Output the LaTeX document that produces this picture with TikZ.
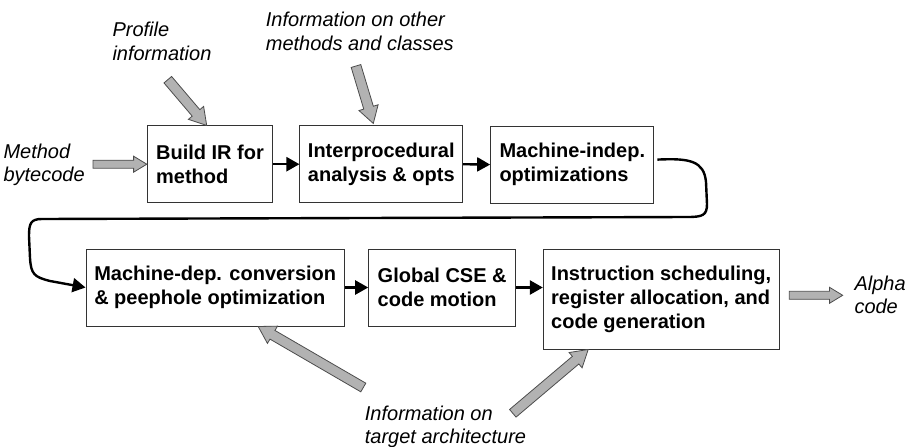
\documentclass[tikz,border=0pt]{standalone}
\usepackage{fontspec}
\setmainfont{Liberation Sans}
\usetikzlibrary{calc,arrows.meta}

% #1 half width of the shaft (pt), #2 tail, #3 tip
\newcommand{\fatarrow}[3]{%
  \coordinate (fh) at ($(#3)!3.3*#1pt!(#2)$);
  \filldraw[fat] ($(#2)!#1pt!90:(#3)$) -- ($(fh)!#1pt!90:(#3)$)
    -- ($(fh)!2*#1pt!90:(#3)$) -- (#3) -- ($(fh)!2*#1pt!-90:(#3)$)
    -- ($(fh)!#1pt!-90:(#3)$) -- ($(#2)!#1pt!-90:(#3)$) -- cycle;
}

\begin{document}
\begin{tikzpicture}[x=1pt,y=-1pt]
\def\cBox{black!80}
\def\cFill{black!30}
\def\cEdge{black!70}
\tikzset{
  stage/.style={draw=\cBox, line width=1pt, align=left, inner sep=0pt,
    font=\bfseries\fontsize{20}{24}\selectfont},
  info/.style={align=left, anchor=base west, inner sep=0pt,
    font=\itshape\fontsize{20}{23.5}\selectfont},
  flow/.style={line width=2.4pt, -{Triangle[length=13pt,width=14pt]}},
  fat/.style={fill=\cFill, draw=\cEdge, line width=0.8pt}
}
\useasboundingbox (0,0) rectangle (906,447);

% stages
\node[stage, minimum width=125.4pt, minimum height=76.5pt] (build) at (210,164.2) {Build IR for\\method};
\node[stage, minimum width=162.7pt, minimum height=76.5pt] (inter) at (381.3,164.2) {Interprocedural\\analysis \& opts};
\node[stage, minimum width=163.3pt, minimum height=77pt] (indep) at (572.3,164.6) {Machine-indep.\\optimizations};
\node[stage, minimum width=258.3pt, minimum height=77pt] (dep) at (215.2,287.5) {Machine-dep. conversion\\\& peephole optimization};
\node[stage, minimum width=147pt, minimum height=77pt] (cse) at (442.2,287.5) {Global CSE \&\\code motion};
\node[stage, minimum width=235.7pt, minimum height=100pt] (sched) at (661.2,299) {Instruction scheduling,\\register allocation, and\\code generation};

% inputs and outputs (base = last line)
\node[info] (lBytecode) at (3.3,181.8) {Method\\bytecode};
\node[info] (lProfile) at (112.3,60.2) {Profile\\information};
\node[info] (lMethods) at (265.7,50.2) {Information on other\\methods and classes};
\node[info] (lTarget) at (364.7,443.5) {Information on\\target architecture};
\node[info] (lAlpha) at (854.3,313.5) {Alpha\\code};

\draw[flow] (build.east) -- (inter.west);
\draw[flow] (inter.east) -- (indep.west);
\draw[flow] ([shift={(3pt,5pt)}]indep.east) .. controls (690,158) and (704,161) .. (706,182)
  -- (707,204) .. controls (707,215) and (703,217) .. (688,217)
  -- (42,219) .. controls (31,219) and (29,223) .. (29,236)
  -- (30,258) .. controls (31,274) and (34,277) .. (50,281) -- (dep.west);
\draw[flow] (dep.east) -- (cse.west);
\draw[flow] (cse.east) -- (cse.east -| sched.west);

\coordinate (tBytecode) at (93,164.2);
\coordinate (tProfile) at (167.8,79.7);
\coordinate (tMethods) at (356,66);
\coordinate (tTargetA) at (363.3,387.5);
\coordinate (tTargetB) at (512.8,413.3);
\coordinate (tAlpha) at (789.3,295.3);
\coordinate (hProfile) at ([xshift=-3.3pt]build.north);
\coordinate (hMethods) at ([shift={(-8pt,2pt)}]inter.north);
\coordinate (hTargetA) at ([xshift=43pt]dep.south);
\coordinate (hTargetB) at ([xshift=-73pt]sched.south);
\coordinate (hAlpha) at (842.7,295.3);

\fatarrow{4}{tBytecode}{build.west}
\fatarrow{5}{tProfile}{hProfile}
\fatarrow{5}{tMethods}{hMethods}
\fatarrow{5}{tTargetA}{hTargetA}
\fatarrow{5}{tTargetB}{hTargetB}
\fatarrow{4}{tAlpha}{hAlpha}
\end{tikzpicture}
\end{document}
